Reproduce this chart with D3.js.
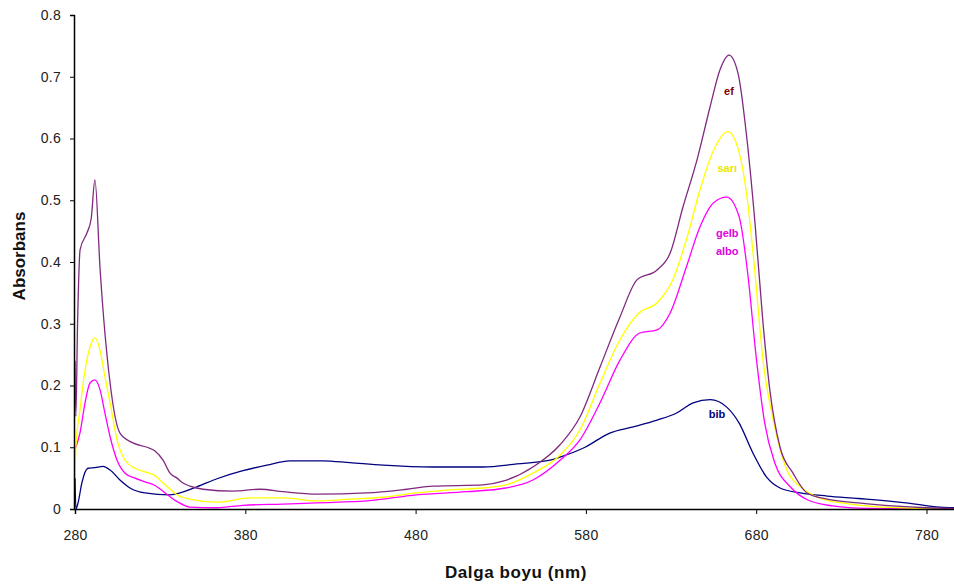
<!DOCTYPE html>
<html>
<head>
<meta charset="utf-8">
<script src="https://cdn.jsdelivr.net/npm/d3@7"></script>
<style>
  body { margin: 0; background: #fff; }
  svg { font-family: "Liberation Sans", Arial, sans-serif; }
</style>
</head>
<body>
<div id="chart"></div>
<script>
var width = 954;
var height = 586;
var margin = {top: 15, right: 0, bottom: 77, left: 74};

// wavelength (nm) / absorbance pairs
var efWl =  [280, 280.5, 281.5, 283, 287, 289.5, 291.7, 294.7, 300.6, 306.4, 314, 322.3, 327, 331.7, 335.8, 339.9, 343.4, 347.5, 355.2, 372.8, 388.6, 402.1, 422, 451.5, 475, 490.2, 519.6, 531.3, 548.9, 564.8, 576.5, 588.3, 600, 610, 621.8, 629.4, 637, 645.2, 652.9, 658.7, 664, 669.3, 674.6, 679.3, 684, 688, 694, 701.6, 709.8, 721.6, 740, 760, 780, 800];
var efAbs = [0.24, 0.15, 0.30, 0.42, 0.447, 0.47, 0.533, 0.39, 0.204, 0.123, 0.107, 0.10, 0.094, 0.079, 0.058, 0.05, 0.042, 0.037, 0.032, 0.029, 0.032, 0.028, 0.024, 0.026, 0.032, 0.037, 0.039, 0.045, 0.068, 0.104, 0.149, 0.23, 0.311, 0.371, 0.387, 0.414, 0.489, 0.565, 0.651, 0.711, 0.735, 0.706, 0.598, 0.463, 0.301, 0.193, 0.10, 0.058, 0.026, 0.016, 0.01, 0.005, 0.002, 0.001];

var sariWl =  [280, 280.5, 282.9, 285.9, 288.8, 291.7, 294.7, 297.6, 300.6, 304.7, 309.4, 315.2, 321.1, 327, 331.7, 336, 339.9, 347.5, 363.4, 382.8, 402.1, 422, 441.5, 461, 480.5, 500, 519.6, 533, 548.9, 564.8, 576.5, 588.3, 600, 611, 621.8, 631, 639, 647, 655, 663.4, 670, 674.6, 679.3, 684, 690, 698, 706, 717, 735, 755, 775, 800];
var sariAbs = [0.05, 0.10, 0.16, 0.225, 0.262, 0.277, 0.257, 0.214, 0.172, 0.112, 0.079, 0.066, 0.06, 0.054, 0.042, 0.032, 0.023, 0.016, 0.011, 0.018, 0.018, 0.013, 0.016, 0.019, 0.026, 0.031, 0.034, 0.039, 0.058, 0.087, 0.128, 0.204, 0.274, 0.317, 0.334, 0.371, 0.436, 0.517, 0.581, 0.611, 0.577, 0.505, 0.382, 0.241, 0.144, 0.063, 0.036, 0.018, 0.008, 0.003, 0.001, 0];

var albWl =  [280, 282.9, 285.9, 288.8, 291.7, 294.7, 297.6, 300.6, 304.7, 309.4, 315.2, 321.1, 327, 332, 340, 347.5, 363.4, 378.6, 402, 422, 451.5, 480.5, 510, 533, 548.9, 564.8, 576.5, 588.3, 600, 611.7, 621.8, 629.4, 639, 647, 655, 662.7, 670, 675, 680, 685, 691, 700, 710, 725, 745, 800];
var albAbs = [0.096, 0.123, 0.172, 0.204, 0.209, 0.193, 0.155, 0.117, 0.079, 0.058, 0.05, 0.044, 0.038, 0.028, 0.012, 0.003, 0.002, 0.006, 0.008, 0.010, 0.013, 0.023, 0.028, 0.034, 0.047, 0.079, 0.112, 0.172, 0.241, 0.285, 0.290, 0.317, 0.392, 0.457, 0.496, 0.505, 0.473, 0.382, 0.246, 0.139, 0.074, 0.036, 0.015, 0.005, 0.001, 0];

var bibWl =  [280, 280.5, 281.8, 284, 287.6, 291.7, 296.4, 300.6, 306.4, 312.3, 321, 335.8, 351.6, 363.4, 378.6, 392.7, 406.2, 425.6, 441.5, 460.9, 490.2, 519.6, 539.5, 559, 564.8, 579.5, 594, 607.8, 621.8, 633, 643, 653, 662.7, 670, 678, 686, 694, 706, 721.6, 740, 768, 788, 800];
var bibAbs = [0.05, 0.0, 0.01, 0.042, 0.066, 0.067, 0.069, 0.063, 0.047, 0.034, 0.026, 0.023, 0.036, 0.049, 0.062, 0.071, 0.078, 0.078, 0.075, 0.071, 0.068, 0.068, 0.073, 0.079, 0.084, 0.10, 0.123, 0.133, 0.144, 0.155, 0.172, 0.177, 0.165, 0.139, 0.091, 0.052, 0.034, 0.026, 0.021, 0.017, 0.01, 0.003, 0.002];

var seriesColors = ["#7f2a7f", "#ffff00", "#ff00ff", "#000080"];

var xTicks = [280, 380, 480, 580, 680, 780];
var yTicks = [0, 0.1, 0.2, 0.3, 0.4, 0.5, 0.6, 0.7, 0.8];

var curves = [
  {wl: efWl, abs: efAbs, color: seriesColors[0]},
  {wl: sariWl, abs: sariAbs, color: seriesColors[1]},
  {wl: albWl, abs: albAbs, color: seriesColors[2]},
  {wl: bibWl, abs: bibAbs, color: seriesColors[3]}
];

// labels placed next to the peaks
var labels = [
  {text: "ef", wl: 664, abs: 0.67, color: "#800000"},
  {text: "sarı", wl: 663, abs: 0.545, color: "#e6e600"},
  {text: "gelb", wl: 663, abs: 0.44, color: "#e000e0"},
  {text: "albo", wl: 663, abs: 0.412, color: "#e000e0"},
  {text: "bib", wl: 657, abs: 0.148, color: "#000080"}
];

var svg = d3.select("#chart")
  .append("svg")
    .attr("width", width)
    .attr("height", height);

var x = d3.scaleLinear()
  .domain([280, 800])
  .range([margin.left + 1, margin.left + 1 + 520 * 1.703]);

var y = d3.scaleLinear()
  .domain([0, 0.8])
  .range([height - margin.bottom, margin.top]);

var line = d3.line()
  .x(function (d) { return x(d[0]); })
  .y(function (d) { return y(d[1]); })
  .curve(d3.curveMonotoneX);

// blue first so the others sit on top
[3, 2, 1, 0].forEach(function (k) {
  var c = curves[k];
  svg.append("path")
    .datum(d3.zip(c.wl, c.abs))
    .attr("fill", "none")
    .attr("stroke", c.color)
    .attr("stroke-width", 1.3)
    .attr("d", line);
});

var xAxis = svg.append("g")
  .attr("transform", "translate(0," + y(0) + ")")
  .call(d3.axisBottom(x).tickValues(xTicks).tickSize(5).tickPadding(16));

var yAxis = svg.append("g")
  .attr("transform", "translate(" + margin.left + ",0)")
  .call(d3.axisLeft(y).tickValues(yTicks).tickSize(4).tickPadding(9)
    .tickFormat(function (d) { return String(+d.toFixed(1)); }));

[xAxis, yAxis].forEach(function (g) {
  g.select(".domain").attr("stroke", "#000").attr("stroke-width", 1.5);
  g.selectAll(".tick line").attr("stroke", "#000");
  g.selectAll(".tick text")
    .attr("fill", "#222")
    .style("font-size", "14px")
    .style("letter-spacing", "0.3px")
    .style("font-family", "'Liberation Sans', Arial, sans-serif");
});

svg.append("text")
  .attr("x", 516)
  .attr("y", 578)
  .attr("text-anchor", "middle")
  .style("font-size", "17px")
  .style("font-weight", "bold")
  .style("letter-spacing", "0.6px")
  .attr("fill", "#111")
  .text("Dalga boyu (nm)");

svg.append("text")
  .attr("transform", "translate(25,256) rotate(-90)")
  .attr("text-anchor", "middle")
  .style("font-size", "17px")
  .style("font-weight", "bold")
  .attr("fill", "#111")
  .text("Absorbans");

svg.selectAll(".lbl")
  .data(labels)
  .enter()
    .append("text")
      .attr("class", "lbl")
      .attr("x", function (d) { return x(d.wl); })
      .attr("y", function (d) { return y(d.abs); })
      .attr("text-anchor", "middle")
      .style("font-size", "11px")
      .style("font-weight", "bold")
      .attr("fill", function (d) { return d.color; })
      .text(function (d) { return d.text; });
</script>
</body>
</html>
